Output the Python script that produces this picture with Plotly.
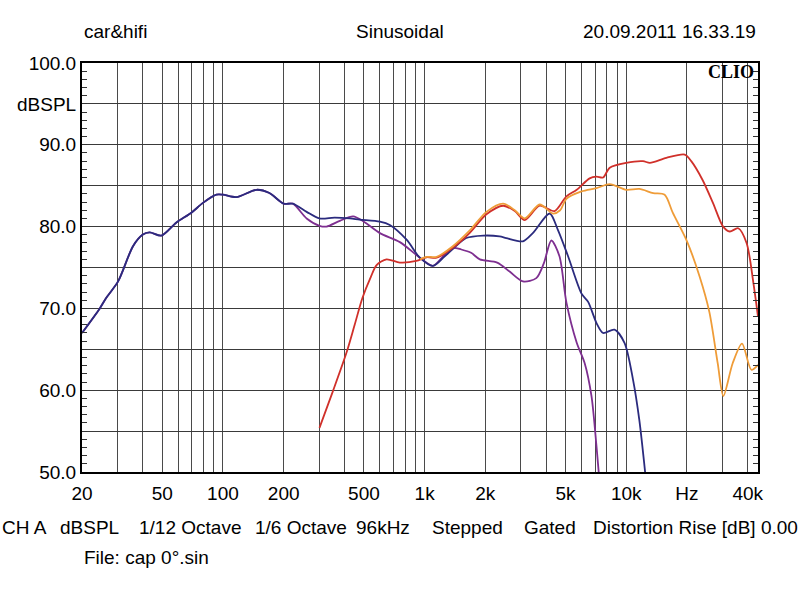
#!/usr/bin/env python3
# -*- coding: utf-8 -*-
# CLIO sinusoidal frequency response, car&hifi 20.09.2011

import plotly.graph_objects as go

# Navy curve
blue_freq = [20, 24.5, 26.4, 30.2, 35.8, 39.9, 43.3, 49.5, 58.8, 69.7, 79.6, 92.8, 100,
             116.6, 146.6, 170, 200, 222, 260, 301, 358, 426, 476, 600, 672, 814, 947,
             1100, 1250, 1400, 1608, 1956, 2354, 2540, 3075, 3440, 4170, 4580, 5140,
             6000, 6470, 7120, 7670, 8740, 9800, 10800, 11600, 12400]
blue_db = [67.0, 70.0, 71.3, 73.3, 77.6, 79.0, 79.3, 78.9, 80.5, 81.7, 82.9, 83.9, 83.9,
           83.6, 84.5, 84.1, 82.8, 82.8, 81.8, 81.0, 81.1, 81.0, 80.85, 80.6, 80.2, 78.4, 76.2,
           75.2, 76.3, 77.4, 78.6, 78.9, 78.8, 78.6, 78.2, 79.2, 81.6, 79.6, 76.4,
           71.8, 70.8, 68.2, 67.0, 67.4, 65.8, 61.3, 56.4, 50.0]

# Purple curve
purple_freq = [20, 24.5, 26.4, 30.2, 35.8, 39.9, 43.3, 49.5, 58.8, 69.7, 79.6, 92.8, 100,
               116.6, 146.6, 170, 200, 222, 260, 301, 326, 380, 442, 500, 600, 754, 947,
               1100, 1250, 1380, 1520, 1700, 1878, 2290, 2640, 3075, 3580, 3900, 4250,
               4660, 5050, 5680, 6220, 6720, 7120, 7300]
purple_db = [67.0, 70.0, 71.3, 73.3, 77.6, 79.0, 79.3, 78.9, 80.5, 81.7, 82.9, 83.9, 83.9,
             83.6, 84.5, 84.1, 82.8, 82.8, 81.0, 80.1, 80.0, 80.7, 81.25, 80.6, 79.2, 78.1, 76.2,
             75.2, 76.5, 77.4, 77.2, 76.8, 76.0, 75.6, 74.5, 73.3, 73.7, 75.5, 78.3,
             76.4, 70.7, 65.8, 63.3, 59.3, 53.1, 50.0]

# Red curve
red_freq = [301, 350, 410, 450, 492, 540, 578, 647, 754, 910, 1022, 1147, 1380, 1670, 2026,
            2452, 2800, 3137, 3720, 4410, 5050, 5680, 6580, 7120, 7670, 8280, 10000, 12100,
            13100, 15800, 19500, 21000, 23900, 26900, 30200, 32600, 35900, 39500, 42700, 45000]
red_db = [55.4, 59.8, 64.6, 68.0, 71.3, 73.8, 75.3, 76.0, 75.6, 75.8, 76.25, 76.2, 77.4, 79.2, 81.5,
          82.55, 81.9, 80.8, 82.55, 81.9, 83.7, 84.5, 85.9, 86.1, 86.0, 87.2, 87.8, 88.0,
          87.8, 88.4, 88.8, 88.0, 85.7, 82.9, 80.0, 79.4, 79.8, 78.0, 73.1, 69.0]

# Orange curve
orange_freq = [950, 1022, 1147, 1380, 1670, 2026, 2452, 2800, 3137, 3720, 4330, 4700, 5050,
               6000, 7120, 8280, 10000, 11600, 13600, 15500, 17000, 20000, 23100, 25800,
               28400, 30300, 33700, 37500, 41700, 45000]
orange_db = [76.0, 76.3, 76.3, 77.6, 79.5, 81.8, 82.8, 82.0, 81.0, 82.7, 81.6, 82.0, 83.4,
             84.3, 84.7, 85.2, 84.5, 84.6, 84.1, 83.9, 81.7, 78.2, 73.9, 69.6,
             63.3, 59.3, 63.3, 65.7, 62.5, 63.1]

# Axis ticks
x_grid = [20, 30, 40, 50, 60, 70, 80, 90, 100, 200, 300, 400, 500, 600, 700, 800, 900,
          1000, 2000, 3000, 4000, 5000, 6000, 7000, 8000, 9000, 10000, 20000, 30000, 40000]
x_labels = {20: "20", 50: "50", 100: "100", 200: "200", 500: "500", 1000: "1k",
            2000: "2k", 5000: "5k", 10000: "10k", 20000: "Hz", 40000: "40k"}
y_grid = [50, 55, 60, 65, 70, 75, 80, 85, 90, 95, 100]
y_labels = {50: "50.0", 60: "60.0", 70: "70.0", 80: "80.0", 90: "90.0", 95: "dBSPL", 100: "100.0"}

FONT = "Arial, Liberation Sans, sans-serif"
FS = 19
W, H = 800, 597
L, R, T, B = 82, 42, 63, 125


def px(x):
    return (x - L) / (W - L - R)


def py(y):
    return (H - B - y) / (H - T - B)


def main():
    fig = go.Figure()
    # purple first so the navy line sits on top where they overlap
    series = [
        (purple_freq, purple_db, "#7e2f90"),
        (blue_freq, blue_db, "#2b2b7e"),
        (red_freq, red_db, "#d0302a"),
        (orange_freq, orange_db, "#ef9c38"),
    ]
    for f, db, c in series:
        fig.add_trace(go.Scatter(x=f, y=db, mode="lines",
                                 line=dict(color=c, width=1.8, shape="spline", smoothing=0.8),
                                 showlegend=False, hoverinfo="skip"))

    fig.update_xaxes(
        type="log", range=[1.30103, 4.65321],
        tickvals=x_grid, ticktext=[x_labels.get(v, "") for v in x_grid],
        showgrid=True, gridcolor="#4a4a4a", gridwidth=1,
        showline=True, linecolor="black", linewidth=2, mirror=True,
        ticks="", ticklabelstandoff=3,
        tickfont=dict(family=FONT, size=FS, color="black"), zeroline=False,
    )
    fig.update_yaxes(
        range=[50, 100],
        tickvals=y_grid, ticktext=[y_labels.get(v, "") for v in y_grid],
        showgrid=True, gridcolor="#3a3a3a", gridwidth=1,
        showline=True, linecolor="black", linewidth=2, mirror="ticks",
        ticks="inside", ticklen=5, tickcolor="#333333",
        minor=dict(dtick=1, ticks="inside", ticklen=5, tickcolor="#333333", showgrid=False),
        tickfont=dict(family=FONT, size=FS, color="black"), zeroline=False,
    )

    notes = [
        ("car&hifi", 82, 32, "left"),
        ("Sinusoidal", 400, 32, "center"),
        ("20.09.2011 16.33.19", 758, 32, "right"),
        ("CH A", 0, 527, "left"),
        ("dBSPL", 89, 527, "center"),
        ("1/12 Octave", 190, 527, "center"),
        ("1/6 Octave", 301, 527, "center"),
        ("96kHz", 383, 527, "center"),
        ("Stepped", 467, 527, "center"),
        ("Gated", 550, 527, "center"),
        ("Distortion Rise [dB] 0.00", 800, 527, "right"),
        ("File: cap 0°.sin", 82, 557, "left"),
    ]
    for text, x, y, anchor in notes:
        fig.add_annotation(text=text, x=px(x), y=py(y), xref="paper", yref="paper",
                           xanchor=anchor, yanchor="middle", showarrow=False,
                           font=dict(family=FONT, size=FS, color="black"))
    fig.add_annotation(text="<b>CLIO</b>", x=px(756), y=py(72), xref="paper", yref="paper",
                       xanchor="right", yanchor="middle", showarrow=False,
                       font=dict(family="Liberation Serif, Times New Roman, serif", size=18, color="black"))

    fig.update_layout(
        width=W, height=H,
        margin=dict(l=L, r=R, t=T, b=B),
        paper_bgcolor="white", plot_bgcolor="white",
    )
    # drop the default 8px body margin so the figure sits at the window origin
    fig.write_html("out.html", config={"displayModeBar": False},
                   post_script="document.body.style.margin='0px';")


if __name__ == "__main__":
    main()
